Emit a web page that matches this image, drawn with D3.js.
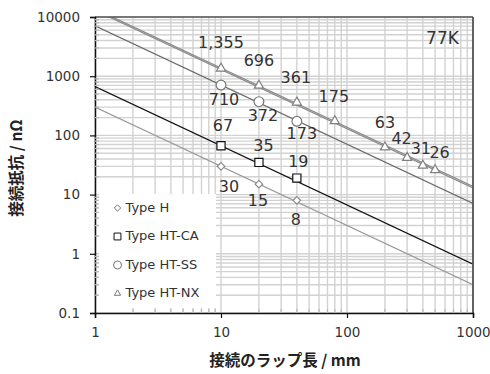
<!DOCTYPE html>
<html>
<head>
<meta charset="utf-8">
<script src="https://cdn.jsdelivr.net/npm/d3@7"></script>
<style>
  html, body { margin: 0; padding: 0; background: #fff; }
  svg { display: block; font-family: "DejaVu Sans", Verdana, sans-serif; }
</style>
</head>
<body>
<svg id="chart" width="490" height="374"></svg>
<script>
// Joint resistance vs. lap length at 77 K (log-log)
const seriesNames = ["Type H", "Type HT-CA", "Type HT-SS", "Type HT-NX"];

const lengthsH  = [10, 20, 40];
const valuesH   = [30, 15, 8];
const lengthsCA = [10, 20, 40];
const valuesCA  = [67, 35, 19];
const lengthsSS = [10, 20, 40];
const valuesSS  = [710, 372, 173];
const lengthsNX = [10, 20, 40, 80, 200, 300, 400, 500];
const valuesNX  = [1355, 696, 361, 175, 63, 42, 31, 26];
const labelsNX  = ["1,355", "696", "361", "175", "63", "42", "31", "26"];

// Power-law fit lines R = k / L (k = resistance at L = 1 mm)
const fitH  = [300];
const fitCA = [670];
const fitSS = [7100];
const fitNX = [13700, 13000];

const xTickValues = [1, 10, 100, 1000];
const yTickValues = [0.1, 1, 10, 100, 1000, 10000];
const yTickLabels = ["0.1", "1", "10", "100", "1000", "10000"];

const margin = { left: 95, right: 473, top: 17, bottom: 313 };
const svg = d3.select("#chart");

const x = d3.scaleLog().domain([1, 1000]).range([margin.left, margin.right]);
const y = d3.scaleLog().domain([0.1, 10000]).range([margin.bottom, margin.top]);

svg.append("defs").append("clipPath").attr("id", "plot-clip")
  .append("rect")
  .attr("x", margin.left).attr("y", margin.top)
  .attr("width", margin.right - margin.left)
  .attr("height", margin.bottom - margin.top);

// grid: every 1..9 multiple of each decade
const gridColor = "#d2d2d2";
const xGrid = [];
for (let d = 1; d < 1000; d *= 10) for (let k = 1; k <= 9; k++) xGrid.push(d * k);
xGrid.push(1000);
const yGrid = [];
for (let d = 0.1; d < 10000; d *= 10) for (let k = 1; k <= 9; k++) yGrid.push(+(d * k).toPrecision(3));
yGrid.push(10000);

const grid = svg.append("g");
grid.selectAll("line.gx").data(xGrid).join("line")
  .attr("x1", d => x(d)).attr("x2", d => x(d))
  .attr("y1", margin.top).attr("y2", margin.bottom)
  .attr("stroke", gridColor).attr("stroke-width", 1.4);
grid.selectAll("line.gy").data(yGrid).join("line")
  .attr("y1", d => y(d)).attr("y2", d => y(d))
  .attr("x1", margin.left).attr("x2", margin.right)
  .attr("stroke", gridColor).attr("stroke-width", 1.4);

// fit lines
const plot = svg.append("g").attr("clip-path", "url(#plot-clip)");
function fitLine(k, color, width) {
  plot.append("line")
    .attr("x1", x(1)).attr("y1", y(k))
    .attr("x2", x(1000)).attr("y2", y(k / 1000))
    .attr("stroke", color).attr("stroke-width", width);
}
fitLine(fitH[0], "#9a9a9a", 1.2);
fitLine(fitCA[0], "#111", 1.3);
fitLine(fitSS[0], "#6a6a6a", 1.2);
fitNX.forEach(k => fitLine(k, "#8c8c8c", 1.3));

// markers
const sym = {
  diamond: d3.symbol().type(d3.symbolDiamond2),
  square: d3.symbol().type(d3.symbolSquare2),
  circle: d3.symbol().type(d3.symbolCircle),
  triangle: d3.symbol().type(d3.symbolTriangle2)
};
function markers(xs, ys, gen, size, stroke) {
  plot.selectAll(null).data(xs.map((v, i) => [v, ys[i]])).join("path")
    .attr("transform", d => `translate(${x(d[0])},${y(d[1])})`)
    .attr("d", gen.size(size)())
    .attr("fill", "#fff").attr("stroke", stroke).attr("stroke-width", 1.2);
}
markers(lengthsH, valuesH, sym.diamond, 36, "#8a8a8a");
markers(lengthsCA, valuesCA, sym.square, 85, "#111");
markers(lengthsSS, valuesSS, sym.circle, 75, "#777");
markers(lengthsNX, valuesNX, sym.triangle, 60, "#808080");

// frame
svg.append("line").attr("x1", margin.left).attr("x2", margin.right)
  .attr("y1", margin.top).attr("y2", margin.top)
  .attr("stroke", "#555").attr("stroke-width", 1.5);
svg.append("line").attr("x1", margin.right).attr("x2", margin.right)
  .attr("y1", margin.top).attr("y2", margin.bottom)
  .attr("stroke", "#555").attr("stroke-width", 1.8);

// legend box (white panel over the grid)
const legend = svg.append("g");
legend.append("rect")
  .attr("x", 99).attr("y", 194).attr("width", 117).attr("height", 114)
  .attr("fill", "#fff");

// axes
const xAxis = d3.axisBottom(x).tickValues(xTickValues).tickFormat(d3.format("d")).tickSize(5).tickPadding(9);
const yAxis = d3.axisLeft(y).tickValues(yTickValues).tickFormat((d, i) => yTickLabels[i]).tickSize(5).tickPadding(10);
const gx = svg.append("g").attr("transform", `translate(0,${margin.bottom})`).call(xAxis);
const gy = svg.append("g").attr("transform", `translate(${margin.left},0)`).call(yAxis);
[gx, gy].forEach(g => {
  g.select(".domain").attr("stroke", "#111").attr("stroke-width", 1.5);
  g.selectAll(".tick line").attr("stroke", "#111").attr("stroke-width", 1.2);
  g.selectAll(".tick text").attr("fill", "#333").attr("font-size", 13.5)
    .attr("font-family", "DejaVu Sans, sans-serif");
});
// inward minor ticks
const minorX = xGrid.filter(v => !xTickValues.includes(v));
const minorY = yGrid.filter(v => !yTickValues.includes(v));
svg.append("g").selectAll("line").data(minorX).join("line")
  .attr("x1", d => x(d)).attr("x2", d => x(d))
  .attr("y1", margin.bottom).attr("y2", margin.bottom - 4)
  .attr("stroke", "#bbb").attr("stroke-width", 1.2);
svg.append("g").selectAll("line").data(minorY).join("line")
  .attr("y1", d => y(d)).attr("y2", d => y(d))
  .attr("x1", margin.left).attr("x2", margin.left + 4)
  .attr("stroke", "#bbb").attr("stroke-width", 1.2);

// legend entries
const legendSyms = [[sym.diamond, 26, "#777"], [sym.square, 60, "#111"], [sym.circle, 50, "#777"], [sym.triangle, 28, "#777"]];
seriesNames.forEach((name, i) => {
  const cy = 207 + i * 28.5;
  legend.append("path")
    .attr("transform", `translate(117.5,${cy + 1})`)
    .attr("d", legendSyms[i][0].size(legendSyms[i][1])())
    .attr("fill", "#fff").attr("stroke", legendSyms[i][2]).attr("stroke-width", 1);
  legend.append("text")
    .attr("x", 125.5).attr("y", cy).attr("dy", "0.35em")
    .attr("font-size", 13).attr("fill", "#333").text(name);
});

// value labels
const labels = svg.append("g").attr("font-size", 16).attr("fill", "#333").attr("text-anchor", "middle");
function valueLabels(xs, ys, texts, nudges) {
  xs.forEach((v, i) => {
    labels.append("text")
      .attr("x", x(v) + nudges[i][0]).attr("y", y(ys[i]) + nudges[i][1])
      .text(texts[i]);
  });
}
valueLabels(lengthsNX, valuesNX, labelsNX,
  [[0, -20], [0, -19.5], [-1, -19.5], [-1, -19.5], [0, -19.5], [-5.5, -14], [-2, -12], [4.5, -12]]);
valueLabels(lengthsSS, valuesSS, valuesSS.map(String), [[3, 19.5], [4, 19], [5, 17.5]]);
valueLabels(lengthsCA, valuesCA, valuesCA.map(String), [[2, -14.5], [4.5, -11], [1.5, -11]]);
valueLabels(lengthsH, valuesH, valuesH.map(String), [[8, 26], [-1, 21.5], [-1, 24.5]]);

svg.append("text").attr("x", 442.5).attr("y", 43.5).attr("text-anchor", "middle")
  .attr("font-size", 17).attr("fill", "#333").text("77K");

// axis titles
svg.append("text").attr("x", 285).attr("y", 366).attr("text-anchor", "middle")
  .attr("font-family", "'Noto Sans CJK JP', sans-serif").attr("font-weight", "bold")
  .attr("font-size", 15.5).attr("fill", "#222").text("接続のラップ長 / mm");
svg.append("text")
  .attr("transform", "translate(22,168) rotate(-90)")
  .attr("text-anchor", "middle")
  .attr("font-family", "'Noto Sans CJK JP', sans-serif").attr("font-weight", "bold")
  .attr("font-size", 15.5).attr("fill", "#222").text("接続抵抗 / nΩ");
</script>
</body>
</html>
